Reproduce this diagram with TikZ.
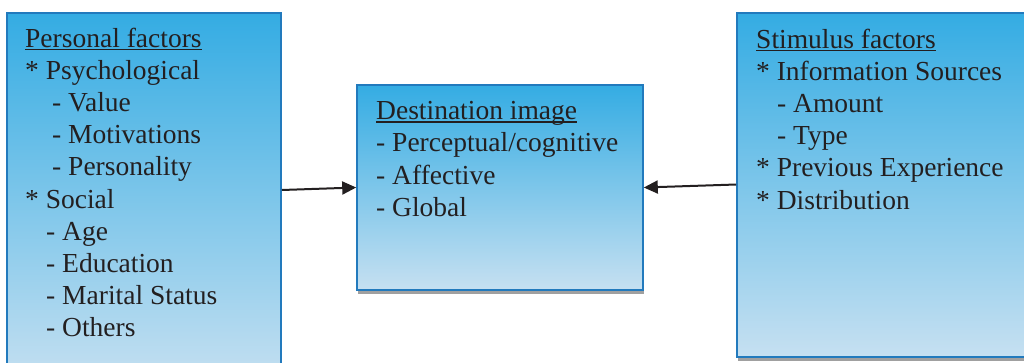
\documentclass[tikz,border=0pt]{standalone}
\usepackage{fontspec}
\setmainfont{Liberation Serif}
\usetikzlibrary{arrows.meta,shadows}

\definecolor{boxtop}{RGB}{52,172,227}
\definecolor{boxbot}{RGB}{198,224,241}
\definecolor{boxedge}{RGB}{34,122,189}
\definecolor{inkc}{RGB}{35,31,32}
\definecolor{shadowc}{RGB}{160,160,160}

% heading text with a rule set just under its baseline
\newcommand{\headul}[1]{\setbox0\hbox{#1}\rlap{\rule[-3.2pt]{\wd0}{1.3pt}}\box0}

\tikzset{
  factorbox/.style={draw=boxedge, line width=1.6pt, top color=boxtop,
    bottom color=boxbot, inner sep=0pt, rectangle,
    drop shadow={shadow xshift=1pt, shadow yshift=-4pt, fill=shadowc, opacity=1}},
  txt/.style={anchor=base west, inner sep=0pt, text=inkc,
    font=\fontsize{27.5}{33}\selectfont},
  link/.style={draw=inkc, line width=2pt,
    -{Triangle[length=14pt, width=13pt]}},
}

\begin{document}
\begin{tikzpicture}[x=1pt, y=-1pt]
  \useasboundingbox (0,0) rectangle (1024,362);
  \clip (0,0) rectangle (1024,362);

  % the three boxes
  \node[factorbox, minimum width=274pt, minimum height=372pt] (pers) at (144,199) {};
  \node[factorbox, minimum width=320pt, minimum height=344pt] (stim) at (897,185) {};
  \node[factorbox, minimum width=286pt, minimum height=205pt] (dest) at (500,187.5) {};

  % personal factors
  \node[txt] (p1)  at (25,47)    {\headul{Personal factors}};
  \node[txt] (p2)  at (25,79.2)  {* Psychological};
  \node[txt] (p3)  at (52,111.4) {- Value};
  \node[txt] (p4)  at (52,143.6) {- Motivations};
  \node[txt] (p5)  at (52,175.8) {- Personality};
  \node[txt] (p6)  at (25,208)   {* Social};
  \node[txt] (p7)  at (46,240.2) {- Age};
  \node[txt] (p8)  at (46,272.4) {- Education};
  \node[txt] (p9)  at (46,304.6) {- Marital Status};
  \node[txt] (p10) at (46,336.8) {- Others};

  % destination image
  \node[txt] (d1) at (376,119.5) {\headul{Destination image}};
  \node[txt] (d2) at (376,151.8) {- Perceptual/cognitive};
  \node[txt] (d3) at (376,184.1) {- Affective};
  \node[txt] (d4) at (376,216.4) {- Global};

  % stimulus factors
  \node[txt] (s1) at (756,48)    {\headul{Stimulus factors}};
  \node[txt] (s2) at (756,80.2)  {* Information Sources};
  \node[txt] (s3) at (777,112.4) {- Amount};
  \node[txt] (s4) at (777,144.6) {- Type};
  \node[txt] (s5) at (756,176.8) {* Previous Experience};
  \node[txt] (s6) at (756,209)   {* Distribution};

  % connectors into the destination image
  \draw[link] ([yshift=-2.5pt]pers.east |- dest.west) -- (dest.west);
  \draw[link] ([yshift=3pt]stim.west |- dest.east) -- (dest.east);
\end{tikzpicture}
\end{document}
